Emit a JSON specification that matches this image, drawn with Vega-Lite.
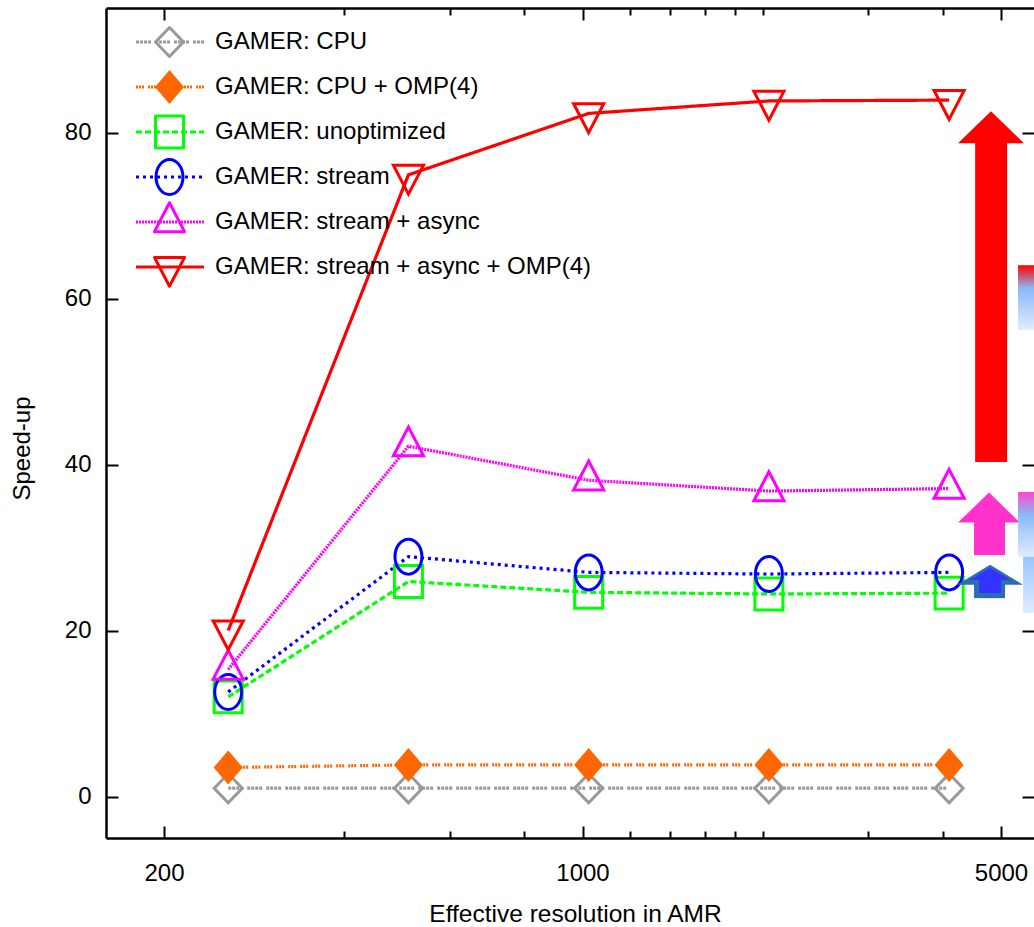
{
  "$schema": "https://vega.github.io/schema/vega-lite/v6.json",
  "width": 928,
  "height": 830,
  "autosize": {"type": "none"},
  "padding": {"left": 106, "top": 8, "right": 0, "bottom": 89},
  "background": "white",
  "config": {"view": {"stroke": null}, "axis": {"grid": false}, "font": "Liberation Sans"},
  "datasets": {
    "series": [
      {"series": "GAMER: CPU", "res": 256, "speedup": 1.0},
      {"series": "GAMER: CPU", "res": 512, "speedup": 1.0},
      {"series": "GAMER: CPU", "res": 1024, "speedup": 1.0},
      {"series": "GAMER: CPU", "res": 2048, "speedup": 1.0},
      {"series": "GAMER: CPU", "res": 4096, "speedup": 1.0},
      {"series": "GAMER: CPU + OMP(4)", "res": 256, "speedup": 3.5},
      {"series": "GAMER: CPU + OMP(4)", "res": 512, "speedup": 3.8},
      {"series": "GAMER: CPU + OMP(4)", "res": 1024, "speedup": 3.8},
      {"series": "GAMER: CPU + OMP(4)", "res": 2048, "speedup": 3.8},
      {"series": "GAMER: CPU + OMP(4)", "res": 4096, "speedup": 3.8},
      {"series": "GAMER: unoptimized", "res": 256, "speedup": 12.0},
      {"series": "GAMER: unoptimized", "res": 512, "speedup": 25.9},
      {"series": "GAMER: unoptimized", "res": 1024, "speedup": 24.6},
      {"series": "GAMER: unoptimized", "res": 2048, "speedup": 24.4},
      {"series": "GAMER: unoptimized", "res": 4096, "speedup": 24.5},
      {"series": "GAMER: stream", "res": 256, "speedup": 12.6},
      {"series": "GAMER: stream", "res": 512, "speedup": 28.9},
      {"series": "GAMER: stream", "res": 1024, "speedup": 27.0},
      {"series": "GAMER: stream", "res": 2048, "speedup": 26.8},
      {"series": "GAMER: stream", "res": 4096, "speedup": 27.0},
      {"series": "GAMER: stream + async", "res": 256, "speedup": 15.3},
      {"series": "GAMER: stream + async", "res": 512, "speedup": 42.2},
      {"series": "GAMER: stream + async", "res": 1024, "speedup": 38.1},
      {"series": "GAMER: stream + async", "res": 2048, "speedup": 36.8},
      {"series": "GAMER: stream + async", "res": 4096, "speedup": 37.1},
      {"series": "GAMER: stream + async + OMP(4)", "res": 256, "speedup": 20.0},
      {"series": "GAMER: stream + async + OMP(4)", "res": 512, "speedup": 74.9},
      {"series": "GAMER: stream + async + OMP(4)", "res": 1024, "speedup": 82.3},
      {"series": "GAMER: stream + async + OMP(4)", "res": 2048, "speedup": 83.8},
      {"series": "GAMER: stream + async + OMP(4)", "res": 4096, "speedup": 83.9}
    ],
    "shafts": [
      {"arrow": "red", "x": 4527, "x2": 5119, "y": 40.3, "y2": 78.8},
      {"arrow": "magenta", "x": 4508, "x2": 5079, "y": 29.1, "y2": 33.1},
      {"arrow": "blueOuter", "x": 4508, "x2": 5079, "y": 23.9, "y2": 25.6},
      {"arrow": "blueInner", "x": 4597, "x2": 5000, "y": 24.5, "y2": 26.2}
    ],
    "heads": [
      {"arrow": "red", "x": 4812, "base": 78.7},
      {"arrow": "magenta", "x": 4775, "base": 33.0},
      {"arrow": "blueOuter", "x": 4795, "base": 25.5},
      {"arrow": "blueInner", "x": 4795, "base": 26.1}
    ],
    "boxes": [
      {"box": "redblue", "x": 5339, "x2": 5677, "y": 56.2, "y2": 64.0},
      {"box": "magentablue", "x": 5339, "x2": 5677, "y": 28.9, "y2": 36.7},
      {"box": "lightblue", "x": 5443, "x2": 5677, "y": 22.1, "y2": 28.9}
    ]
  },
  "layer": [
    {
      "data": {"name": "series"},
      "mark": {"type": "line"},
      "encoding": {
        "x": {
          "field": "res", "type": "quantitative",
          "scale": {"type": "log", "domain": [160, 5677], "nice": false},
          "axis": {
            "orient": "bottom",
            "values": [200, 400, 600, 800, 1000, 1200, 1400, 1600, 1800, 2000, 3000, 4000, 5000],
            "format": "d",
            "labelExpr": "datum.value == 200 || datum.value == 1000 || datum.value == 5000 ? datum.label : ''",
            "labelOverlap": false, "labelFlush": false,
            "tickSize": {"condition": {"test": "datum.value == 200 || datum.value == 1000 || datum.value == 5000", "value": -12}, "value": -7},
            "tickWidth": 2, "tickColor": "black",
            "domainColor": "black", "domainWidth": 2.5,
            "labelFont": "Liberation Sans", "labelFontSize": 24, "labelColor": "black",
            "labelBaseline": "alphabetic", "labelPadding": 54,
            "title": "Effective resolution in AMR",
            "titleFont": "Liberation Sans", "titleFontSize": 24.5, "titleFontWeight": "normal", "titleColor": "black",
            "titleX": 469, "titleY": 83, "titleBaseline": "alphabetic"
          }
        },
        "y": {
          "field": "speedup", "type": "quantitative",
          "scale": {"domain": [-5, 95], "nice": false, "zero": false},
          "axis": {
            "orient": "left",
            "values": [0, 20, 40, 60, 80],
            "tickSize": -12, "tickWidth": 2, "tickColor": "black",
            "domainColor": "black", "domainWidth": 2.5,
            "labelFont": "Liberation Sans", "labelFontSize": 24, "labelColor": "black",
            "labelPadding": 27,
            "title": "Speed-up",
            "titleFont": "Liberation Sans", "titleFontSize": 24, "titleFontWeight": "normal", "titleColor": "black",
            "titleAngle": 270, "titleX": -77, "titleY": 440, "titleBaseline": "alphabetic"
          }
        },
        "color": {
          "field": "series", "type": "nominal",
          "scale": {
            "domain": ["GAMER: CPU", "GAMER: CPU + OMP(4)", "GAMER: unoptimized", "GAMER: stream", "GAMER: stream + async", "GAMER: stream + async + OMP(4)"],
            "range": ["#999999", "#ff6600", "#00ff00", "#0000ff", "#ff00ff", "#ff0000"]
          },
          "legend": {
            "orient": "none", "legendX": 28, "legendY": 11.5, "title": null, "padding": 0,
            "symbolType": "stroke", "symbolSize": 4624, "symbolStrokeWidth": 3,
            "labelExpr": "''", "labelFontSize": 1,
            "clipHeight": 45, "rowPadding": 0, "gridAlign": "all"
          }
        },
        "strokeDash": {
          "field": "series", "type": "nominal",
          "scale": {
            "domain": ["GAMER: CPU", "GAMER: CPU + OMP(4)", "GAMER: unoptimized", "GAMER: stream", "GAMER: stream + async", "GAMER: stream + async + OMP(4)"],
            "range": [[3, 1, 3, 1, 3, 1, 3, 4], [2, 1, 2, 1, 2, 4], [6, 3], [3, 4], [2, 1], [1, 0]]
          },
          "legend": {
            "orient": "none", "legendX": 28, "legendY": 11.5, "title": null, "padding": 0,
            "symbolType": "stroke", "symbolSize": 4624, "symbolStrokeWidth": 3,
            "labelExpr": "''", "labelFontSize": 1,
            "clipHeight": 45, "rowPadding": 0, "gridAlign": "all"
          }
        },
        "strokeWidth": {
          "field": "series", "type": "nominal",
          "scale": {
            "domain": ["GAMER: CPU", "GAMER: CPU + OMP(4)", "GAMER: unoptimized", "GAMER: stream", "GAMER: stream + async", "GAMER: stream + async + OMP(4)"],
            "range": [3.2, 3.2, 3.2, 3.2, 3.2, 4]
          },
          "legend": null
        }
      }
    },
    {
      "data": {"name": "series"},
      "mark": {"type": "point", "size": 1225, "strokeWidth": 3, "opacity": 1},
      "encoding": {
        "x": {
          "field": "res", "type": "quantitative",
          "axis": {
            "orient": "top",
            "values": [200, 400, 600, 800, 1000, 1200, 1400, 1600, 1800, 2000, 3000, 4000, 5000],
            "labels": false,
            "tickSize": {"condition": {"test": "datum.value == 200 || datum.value == 1000 || datum.value == 5000", "value": -12}, "value": -7},
            "tickWidth": 2, "tickColor": "black",
            "domainColor": "black", "domainWidth": 2.5,
            "title": null
          }
        },
        "y": {
          "field": "speedup", "type": "quantitative",
          "axis": {
            "orient": "right",
            "values": [0, 20, 40, 60, 80],
            "labels": false, "domain": false,
            "tickSize": -12, "tickWidth": 2, "tickColor": "black",
            "title": null
          }
        },
        "shape": {
          "field": "series", "type": "nominal",
          "sort": ["GAMER: CPU", "GAMER: CPU + OMP(4)", "GAMER: unoptimized", "GAMER: stream", "GAMER: stream + async", "GAMER: stream + async + OMP(4)"],
          "scale": {
            "range": [
              "M0,-0.83L0.8,0L0,0.83L-0.8,0Z",
              "M0,-0.97L0.83,0L0,0.97L-0.83,0Z",
              "M-0.8,-0.91L0.8,-0.91L0.8,0.91L-0.8,0.91Z",
              "M-0.77,0A0.77,1,0,1,1,0.77,0A0.77,1,0,1,1,-0.77,0Z",
              "M0,-1.1L0.86,0.55L-0.86,0.55Z",
              "M0,1.1L0.86,-0.55L-0.86,-0.55Z"
            ]
          },
          "legend": {
            "orient": "none", "legendX": 44.5, "legendY": 11.5, "title": null, "padding": 0,
            "symbolSize": 1225, "symbolStrokeWidth": 3,
            "labelFont": "Liberation Sans", "labelFontSize": 24, "labelColor": "black", "labelLimit": 600,
            "labelOffset": 26.5, "clipHeight": 45, "rowPadding": 0, "gridAlign": "all",
            "encoding": {
              "symbols": {
                "stroke": {
                  "condition": [
                    {"test": "datum.value == 'GAMER: CPU'", "value": "#999999"},
                    {"test": "datum.value == 'GAMER: CPU + OMP(4)'", "value": "transparent"},
                    {"test": "datum.value == 'GAMER: unoptimized'", "value": "#00ff00"},
                    {"test": "datum.value == 'GAMER: stream'", "value": "#0000ff"},
                    {"test": "datum.value == 'GAMER: stream + async'", "value": "#ff00ff"}
                  ],
                  "value": "#ff0000"
                },
                "fill": {
                  "condition": {"test": "datum.value == 'GAMER: CPU + OMP(4)'", "value": "#ff6600"},
                  "value": "transparent"
                },
                "strokeJoin": {"value": "round"},
                "opacity": {"value": 1}
              }
            }
          }
        },
        "stroke": {
          "field": "series", "type": "nominal",
          "scale": {
            "domain": ["GAMER: CPU", "GAMER: CPU + OMP(4)", "GAMER: unoptimized", "GAMER: stream", "GAMER: stream + async", "GAMER: stream + async + OMP(4)"],
            "range": ["#999999", "transparent", "#00ff00", "#0000ff", "#ff00ff", "#ff0000"]
          },
          "legend": null
        },
        "fill": {
          "field": "series", "type": "nominal",
          "scale": {
            "domain": ["GAMER: CPU", "GAMER: CPU + OMP(4)", "GAMER: unoptimized", "GAMER: stream", "GAMER: stream + async", "GAMER: stream + async + OMP(4)"],
            "range": ["transparent", "#ff6600", "transparent", "transparent", "transparent", "transparent"]
          },
          "legend": null
        }
      }
    },
    {
      "data": {"name": "shafts"},
      "transform": [{"filter": "datum.arrow == 'red'"}],
      "mark": {"type": "rect", "color": "#ff0000"},
      "encoding": {
        "x": {"field": "x", "type": "quantitative", "axis": null}, "x2": {"field": "x2"},
        "y": {"field": "y", "type": "quantitative", "axis": null}, "y2": {"field": "y2"}
      }
    },
    {
      "data": {"name": "heads"},
      "transform": [{"filter": "datum.arrow == 'red'"}],
      "mark": {"type": "point", "shape": "M-1,0L0,-0.97L1,0Z", "size": 4356, "filled": true, "color": "#ff0000", "opacity": 1, "strokeWidth": 0},
      "encoding": {
        "x": {"field": "x", "type": "quantitative", "axis": null},
        "y": {"field": "base", "type": "quantitative", "axis": null}
      }
    },
    {
      "data": {"name": "shafts"},
      "transform": [{"filter": "datum.arrow == 'magenta'"}],
      "mark": {"type": "rect", "color": "#ff33cc"},
      "encoding": {
        "x": {"field": "x", "type": "quantitative", "axis": null}, "x2": {"field": "x2"},
        "y": {"field": "y", "type": "quantitative", "axis": null}, "y2": {"field": "y2"}
      }
    },
    {
      "data": {"name": "heads"},
      "transform": [{"filter": "datum.arrow == 'magenta'"}],
      "mark": {"type": "point", "shape": "M-0.94,0L0,-0.91L0.94,0Z", "size": 4356, "filled": true, "color": "#ff33cc", "opacity": 1, "strokeWidth": 0},
      "encoding": {
        "x": {"field": "x", "type": "quantitative", "axis": null},
        "y": {"field": "base", "type": "quantitative", "axis": null}
      }
    },
    {
      "data": {"name": "shafts"},
      "transform": [{"filter": "datum.arrow == 'blueOuter'"}],
      "mark": {"type": "rect", "color": "#2a6db5"},
      "encoding": {
        "x": {"field": "x", "type": "quantitative", "axis": null}, "x2": {"field": "x2"},
        "y": {"field": "y", "type": "quantitative", "axis": null}, "y2": {"field": "y2"}
      }
    },
    {
      "data": {"name": "heads"},
      "transform": [{"filter": "datum.arrow == 'blueOuter'"}],
      "mark": {"type": "point", "shape": "M-1,0L0,-0.61L1,0Z", "size": 4356, "filled": true, "color": "#2a6db5", "opacity": 1, "strokeWidth": 0},
      "encoding": {
        "x": {"field": "x", "type": "quantitative", "axis": null},
        "y": {"field": "base", "type": "quantitative", "axis": null}
      }
    },
    {
      "data": {"name": "shafts"},
      "transform": [{"filter": "datum.arrow == 'blueInner'"}],
      "mark": {"type": "rect", "color": "#3333ff"},
      "encoding": {
        "x": {"field": "x", "type": "quantitative", "axis": null}, "x2": {"field": "x2"},
        "y": {"field": "y", "type": "quantitative", "axis": null}, "y2": {"field": "y2"}
      }
    },
    {
      "data": {"name": "heads"},
      "transform": [{"filter": "datum.arrow == 'blueInner'"}],
      "mark": {"type": "point", "shape": "M-0.61,0L0,-0.36L0.61,0Z", "size": 4356, "filled": true, "color": "#3333ff", "opacity": 1, "strokeWidth": 0},
      "encoding": {
        "x": {"field": "x", "type": "quantitative", "axis": null},
        "y": {"field": "base", "type": "quantitative", "axis": null}
      }
    },
    {
      "data": {"name": "boxes"},
      "transform": [{"filter": "datum.box == 'redblue'"}],
      "mark": {"type": "rect", "color": {"gradient": "linear", "x1": 0, "y1": 0, "x2": 0, "y2": 1, "stops": [{"offset": 0, "color": "#ff0000"}, {"offset": 0.35, "color": "#8ab8f8"}, {"offset": 1, "color": "#e0ecff"}]}},
      "encoding": {
        "x": {"field": "x", "type": "quantitative", "axis": null}, "x2": {"field": "x2"},
        "y": {"field": "y", "type": "quantitative", "axis": null}, "y2": {"field": "y2"}
      }
    },
    {
      "data": {"name": "boxes"},
      "transform": [{"filter": "datum.box == 'magentablue'"}],
      "mark": {"type": "rect", "color": {"gradient": "linear", "x1": 0, "y1": 0, "x2": 0, "y2": 1, "stops": [{"offset": 0, "color": "#ff44cc"}, {"offset": 0.35, "color": "#8ab8f8"}, {"offset": 1, "color": "#e0ecff"}]}},
      "encoding": {
        "x": {"field": "x", "type": "quantitative", "axis": null}, "x2": {"field": "x2"},
        "y": {"field": "y", "type": "quantitative", "axis": null}, "y2": {"field": "y2"}
      }
    },
    {
      "data": {"name": "boxes"},
      "transform": [{"filter": "datum.box == 'lightblue'"}],
      "mark": {"type": "rect", "color": {"gradient": "linear", "x1": 0, "y1": 0, "x2": 0, "y2": 1, "stops": [{"offset": 0, "color": "#99c4ff"}, {"offset": 1, "color": "#e0ecff"}]}},
      "encoding": {
        "x": {"field": "x", "type": "quantitative", "axis": null}, "x2": {"field": "x2"},
        "y": {"field": "y", "type": "quantitative", "axis": null}, "y2": {"field": "y2"}
      }
    }
  ],
  "resolve": {"axis": {"x": "independent", "y": "independent"}}
}
